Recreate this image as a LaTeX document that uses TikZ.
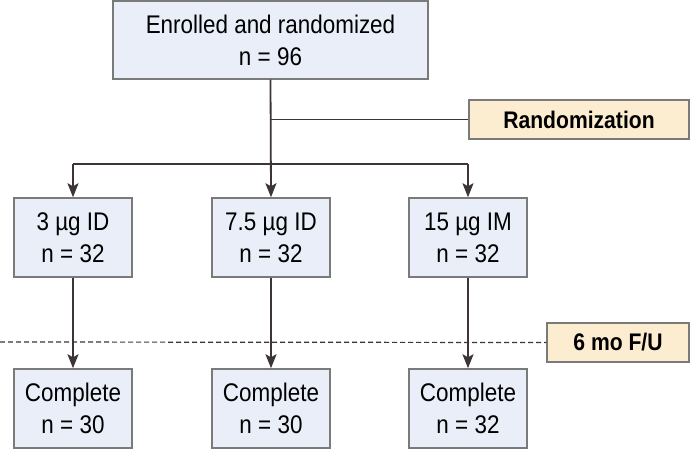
\documentclass[tikz,border=0pt]{standalone}
\usepackage{fontspec}
\setmainfont{Liberation Sans}[FakeStretch=0.88]
\usetikzlibrary{arrows.meta}
\definecolor{boxblue}{HTML}{E9EEF8}
\definecolor{boxpeach}{HTML}{FDEDD0}
\definecolor{boxline}{HTML}{7A7A7A}
\definecolor{flowline}{HTML}{3D3535}

\begin{document}
\begin{tikzpicture}[x=1pt,y=1pt]
  \useasboundingbox (0,0) rectangle (690,449);
  \tikzset{GroupStyle/.style = {rectangle,
                                draw           = boxline,
                                fill           = boxblue,
                                line width     = 1.5pt,
                                inner sep      = 0pt,
                                align          = center,
                                minimum width  = 118pt,
                                minimum height = 79pt,
                                font           = \fontsize{25.5}{32}\selectfont}}

  \tikzset{StageStyle/.style = {rectangle,
                                draw           = boxline,
                                fill           = boxpeach,
                                line width     = 1.5pt,
                                inner sep      = 0pt,
                                minimum height = 39pt,
                                font           = \fontsize{24}{28}\selectfont\bfseries}}

  \tikzset{EdgeStyle/.style   = {draw = flowline, line width = 1.8pt}}
  \tikzset{ArrowStyle/.style  = {EdgeStyle, -{Stealth[length=14pt,width=11pt,inset=3pt]}}}

     \node[GroupStyle, minimum width=315pt, minimum height=78pt] (Enrol) at (270.5,409)
          {Enrolled and randomized\\n = 96};
     \node[StageStyle, minimum width=220pt] (Rand) at (579,329.5) {Randomization};
     \node[GroupStyle] (G_1) at (73,211.5)  {3 µg ID\\ n = 32};
     \node[GroupStyle] (G_2) at (271,211.5) {7.5 µg ID\\n = 32};
     \node[GroupStyle] (G_3) at (468,211.5) {15 µg IM\\ n = 32};
     \node[StageStyle, minimum width=142pt] (FU) at (618,106.5) {6 mo F/U};
     \node[GroupStyle] (C_1) at (73,40.5)  {Complete\\ n = 30};
     \node[GroupStyle] (C_2) at (271,40.5) {Complete\\ n = 30};
     \node[GroupStyle] (C_3) at (468,40.5) {Complete\\ n = 32};
     \coordinate (B_1) at (73,285);
     \coordinate (B_3) at (468,285);
     \coordinate (D_0) at (0,107);

     \draw[EdgeStyle](Enrol.south |- Rand.west) -- (Rand.west);
     \draw[EdgeStyle](B_1) -- (B_3);
     \draw[ArrowStyle](Enrol.south) -- (G_2.north);
     \draw[ArrowStyle](B_1) -- (G_1.north);
     \draw[ArrowStyle](B_3) -- (G_3.north);
     \draw[EdgeStyle, line width=1.2pt, dash pattern=on 5pt off 3pt](D_0) -- (FU.west);
     \draw[ArrowStyle](G_1.south) -- (C_1.north);
     \draw[ArrowStyle](G_2.south) -- (C_2.north);
     \draw[ArrowStyle](G_3.south) -- (C_3.north);

\end{tikzpicture}
\end{document}
